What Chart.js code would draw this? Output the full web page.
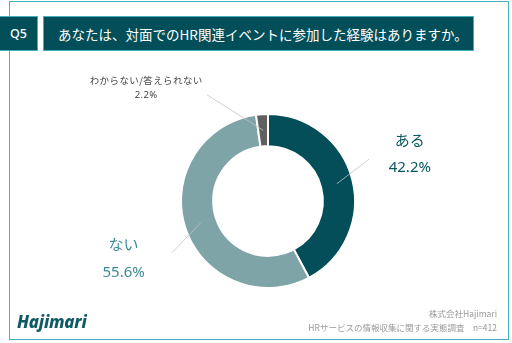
<!DOCTYPE html>
<html lang="ja">
<head>
<meta charset="utf-8">
<script src="https://cdn.jsdelivr.net/npm/chart.js@4/dist/chart.umd.min.js"></script>
<style>
  html, body { margin: 0; padding: 0; background: #fff; }
  body { width: 512px; height: 343px; position: relative; overflow: hidden;
         font-family: "Noto Sans CJK JP", "Noto Sans", sans-serif; }
  .frame { position: absolute; left: 9px; top: 1px; width: 500px; height: 339px;
           border: 1.5px solid #45b3bd; box-sizing: border-box; }
  .qbox { position: absolute; left: 0; top: 16px; width: 38px; height: 35px;
          background: #024f59; border: 1px solid #3fb2bd; border-left: none; box-sizing: border-box;
          color: #fff; font-size: 12.5px; font-family: "Noto Sans", sans-serif; font-weight: 500;
          display: flex; align-items: center; justify-content: center; }
  .title { position: absolute; left: 43px; top: 16px; width: 431px; height: 35px;
           background: #024f59; border: 1px solid #3fb2bd; box-sizing: border-box;
           color: #fff; font-size: 13.5px; padding-left: 14px;
           display: flex; align-items: center; white-space: nowrap; }
  #wrap { position: absolute; left: 0; top: 0; width: 512px; height: 343px; }
  .logo { position: absolute; left: 17px; top: 310px; color: #0e5a63;
          font-family: "Noto Sans", sans-serif; font-weight: 800; font-style: italic;
          font-size: 17px; letter-spacing: -0.2px; }
  .foot { position: absolute; right: 15px; top: 306px; text-align: right; color: #9a9a9a;
          font-size: 8.5px; line-height: 14px; white-space: nowrap; }
</style>
</head>
<body>
<div class="frame"></div>
<div class="qbox">Q5</div>
<div class="title">あなたは、対面でのHR関連イベントに参加した経験はありますか。</div>
<div id="wrap"><canvas id="c" width="512" height="343"></canvas></div>
<div class="logo">Hajimari</div>
<div class="foot">株式会社Hajimari<br>HRサービスの情報収集に関する実態調査　n=412</div>
<script>
// Answers and their shares (%)
const categories = ['ある', 'ない', 'わからない/答えられない'];
const shares = [42.2, 55.6, 2.2];
const sliceColors = ['#034e58', '#7ea4a8', '#606060'];

// Callout layout per slice, in units of the outer radius from the centre:
// line end point and label centre, plus text styling.
const callouts = [
  { end: [1.16, -0.48], at: [1.63, -0.54], size: 15, gap: 28, spacing: 0, color: '#0b5760' },
  { end: [-1.10, 0.59], at: [-1.66, 0.66], size: 15, gap: 28, spacing: 0, color: '#3c8a94' },
  { end: [-0.70, -1.22], at: [-1.40, -1.30], size: 9.5, gap: 15, spacing: 0.4, color: '#444444' }
];

const calloutPlugin = {
  id: 'callouts',
  afterDatasetsDraw(chart) {
    const ctx = chart.ctx;
    const meta = chart.getDatasetMeta(0);
    meta.data.forEach((arc, i) => {
      const p = arc.getProps(['x', 'y', 'startAngle', 'endAngle', 'innerRadius', 'outerRadius'], true);
      const c = callouts[i];
      const mid = (p.startAngle + p.endAngle) / 2;
      const rm = (p.innerRadius + p.outerRadius) / 2;
      const R = p.outerRadius;
      const sx = p.x + Math.cos(mid) * rm, sy = p.y + Math.sin(mid) * rm;
      const ex = p.x + c.end[0] * R, ey = p.y + c.end[1] * R;
      ctx.save();
      ctx.strokeStyle = '#c4c4c4';
      ctx.lineWidth = 0.8;
      ctx.beginPath(); ctx.moveTo(sx, sy); ctx.lineTo(ex, ey); ctx.stroke();
      const lx = p.x + c.at[0] * R, ly = p.y + c.at[1] * R;
      ctx.fillStyle = c.color;
      ctx.textAlign = 'center';
      ctx.textBaseline = 'middle';
      ctx.letterSpacing = c.spacing + 'px';
      ctx.font = c.size + 'px "Noto Sans CJK JP", sans-serif';
      ctx.fillText(chart.data.labels[i], lx, ly - c.gap / 2);
      ctx.font = c.size + 'px "Noto Sans", sans-serif';
      ctx.fillText(chart.data.datasets[0].data[i].toFixed(1) + '%', lx, ly + c.gap / 2);
      ctx.restore();
    });
  }
};

new Chart(document.getElementById('c'), {
  type: 'doughnut',
  data: {
    labels: categories,
    datasets: [{
      data: shares,
      backgroundColor: sliceColors,
      borderColor: '#ffffff',
      borderWidth: 2
    }]
  },
  options: {
    responsive: false,
    animation: false,
    cutout: '63%',
    layout: { padding: { left: 180, right: 156, top: 113, bottom: 54 } },
    plugins: { legend: { display: false }, tooltip: { enabled: false } }
  },
  plugins: [calloutPlugin]
});
</script>
</body>
</html>
